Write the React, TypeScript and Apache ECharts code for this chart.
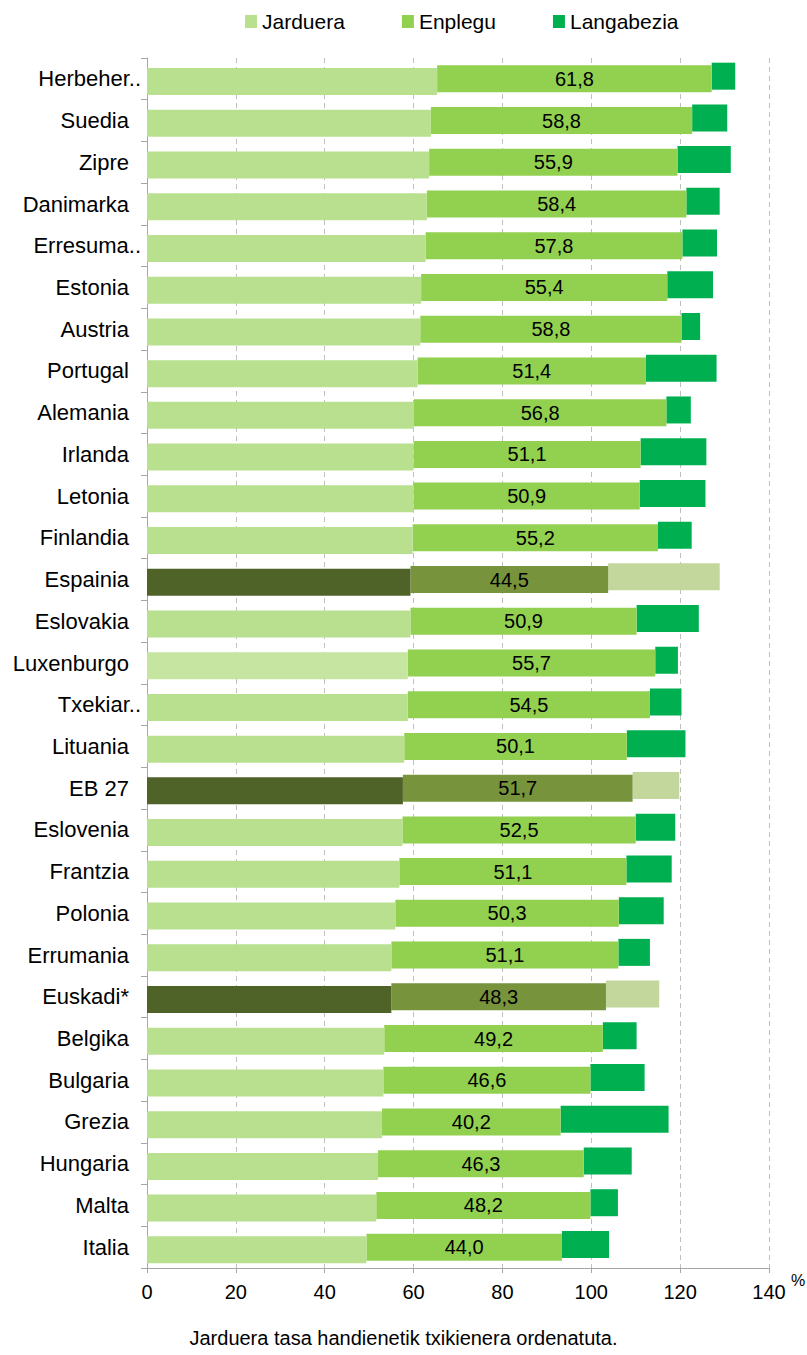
import React, { useEffect, useRef } from "react";
import * as echarts from "echarts";

const categories = [
  "Herbeher..", "Suedia", "Zipre", "Danimarka", "Erresuma..", "Estonia", "Austria", "Portugal",
  "Alemania", "Irlanda", "Letonia", "Finlandia", "Espainia", "Eslovakia", "Luxenburgo", "Txekiar..",
  "Lituania", "EB 27", "Eslovenia", "Frantzia", "Polonia", "Errumania", "Euskadi*", "Belgika",
  "Bulgaria", "Grezia", "Hungaria", "Malta", "Italia",
];
const jarduera = [65.3, 63.9, 63.5, 63.0, 62.7, 61.7, 61.5, 60.9, 60.1, 60.0, 60.0, 59.8, 59.3, 59.3, 58.7, 58.7, 57.9, 57.6, 57.5, 56.8, 55.9, 55.0, 55.0, 53.4, 53.2, 52.9, 52.0, 51.6, 49.4];
const enplegu = [61.8, 58.8, 55.9, 58.4, 57.8, 55.4, 58.8, 51.4, 56.8, 51.1, 50.9, 55.2, 44.5, 50.9, 55.7, 54.5, 50.1, 51.7, 52.5, 51.1, 50.3, 51.1, 48.3, 49.2, 46.6, 40.2, 46.3, 48.2, 44.0];
const langabezia = [5.3, 7.9, 12.0, 7.5, 7.8, 10.3, 4.2, 15.9, 5.5, 14.8, 14.8, 7.6, 25.1, 14.0, 5.1, 7.1, 13.2, 10.5, 8.9, 10.2, 10.1, 7.1, 12.0, 7.6, 12.2, 24.3, 10.8, 6.2, 10.6];
const highlighted = ["Espainia", "EB 27", "Euskadi*"];
const xTicks = [0, 20, 40, 60, 80, 100, 120, 140];
const legendNames = ["Jarduera", "Enplegu", "Langabezia"];
const footnote = "Jarduera tasa handienetik txikienera ordenatuta.";

const FONT = "'Liberation Sans', Arial, sans-serif";
const C_J = "#b9e08f";
const C_J_LUX = "#c5e5a1";
const C_E = "#92d050";
const C_L = "#00b050";
const H_J = "#4f6228";
const H_E = "#77933c";
const H_L = "#c3d69b";

export default function App() {
  const ref = useRef<HTMLDivElement>(null);
  useEffect(() => {
    if (!ref.current) return;
    const chart = echarts.init(ref.current, null, { renderer: "svg" });
    const isH = (i: number) => highlighted.includes(categories[i]);
    const jData = jarduera.map((v, i) => ({
      value: v,
      itemStyle: { color: isH(i) ? H_J : categories[i] === "Luxenburgo" ? C_J_LUX : C_J },
    }));
    const eData = enplegu.map((v, i) => ({ value: v, itemStyle: { color: isH(i) ? H_E : C_E } }));
    const lData = langabezia.map((v, i) => ({ value: v, itemStyle: { color: isH(i) ? H_L : C_L } }));
    const baseE = jarduera.map((v) => v);
    const baseL = jarduera.map((v, i) => +(v + enplegu[i]).toFixed(1));
    const common = { type: "bar", barWidth: 27, barGap: "-90%" };
    const option = {
      animation: false,
      textStyle: { fontFamily: FONT },
      legend: {
        data: legendNames,
        left: 240,
        top: 6,
        icon: "rect",
        itemWidth: 12,
        itemHeight: 13,
        itemGap: 57,
        selectedMode: false,
        textStyle: { fontSize: 21, color: "#000", fontFamily: FONT },
      },
      grid: { left: 147, right: 38, top: 58, bottom: 87, containLabel: false },
      xAxis: {
        type: "value",
        min: xTicks[0],
        max: xTicks[xTicks.length - 1],
        interval: 20,
        axisLine: { show: true, lineStyle: { color: "#a6a6a6" } },
        axisTick: { show: true, length: 5, lineStyle: { color: "#a6a6a6" } },
        axisLabel: { fontSize: 20, color: "#000", margin: 14, fontFamily: FONT },
        splitLine: { show: true, lineStyle: { color: "#bfbfbf", type: [5, 4] } },
      },
      yAxis: {
        type: "category",
        data: categories,
        inverse: true,
        axisLine: { show: true, lineStyle: { color: "#a6a6a6" } },
        axisTick: { show: true, length: 6, alignWithLabel: false, lineStyle: { color: "#a6a6a6" } },
        axisLabel: {
          margin: 6,
          color: "#000",
          fontSize: 22,
          fontFamily: FONT,
          formatter: (v: string) => (v.endsWith("..") ? `{d|${v}}` : `{n|${v}}`),
          rich: {
            n: { fontSize: 22, color: "#000", fontFamily: FONT, padding: [0, 12, 0, 0] },
            d: { fontSize: 22, color: "#000", fontFamily: FONT },
          },
        },
        splitLine: { show: false },
      },
      series: [
        { ...common, name: "_baseL", stack: "L", data: baseL, silent: true, itemStyle: { color: "transparent" } },
        { ...common, name: "Langabezia", stack: "L", data: lData, itemStyle: { color: C_L } },
        { ...common, name: "_baseE", stack: "E", data: baseE, silent: true, itemStyle: { color: "transparent" } },
        {
          ...common,
          name: "Enplegu",
          stack: "E",
          data: eData,
          itemStyle: { color: C_E },
          label: {
            show: true,
            position: "inside",
            color: "#000",
            fontSize: 20,
            fontFamily: FONT,
            formatter: (p: any) => Number(p.value).toFixed(1).replace(".", ","),
          },
        },
        { ...common, name: "Jarduera", stack: "J", data: jData, itemStyle: { color: C_J } },
      ],
      graphic: [
        { type: "text", left: 791, top: 1272, style: { text: "%", fontSize: 16, fill: "#000", fontFamily: FONT } },
        {
          type: "text",
          left: "center",
          top: 1328,
          style: { text: footnote, fontSize: 20, fill: "#000", fontFamily: FONT },
        },
      ],
    };
    chart.setOption(option as any);
    return () => chart.dispose();
  }, []);
  return (
    <div
      ref={ref}
      style={{ position: "absolute", left: 0, top: 0, width: 807, height: 1355, background: "#fff" }}
    />
  );
}
